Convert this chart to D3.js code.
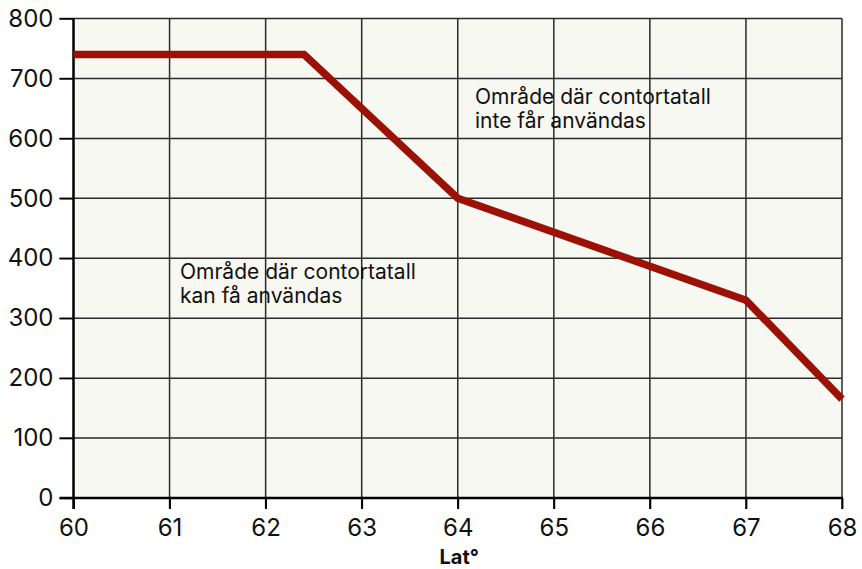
<!DOCTYPE html>
<html>
<head>
<meta charset="utf-8">
<script src="https://cdn.jsdelivr.net/npm/d3@7"></script>
<style>
  body { margin: 0; background: #fff; }
  svg { display: block; font-family: Inter, "Noto Sans", sans-serif; }
</style>
</head>
<body>
<svg id="chart" width="862" height="569"></svg>
<script>
// data
var lat = [60, 62.4, 64, 67, 68];
var heightLimit = [740, 740, 500, 330, 165];
var xTicks = [60, 61, 62, 63, 64, 65, 66, 67, 68];
var yTicks = [0, 100, 200, 300, 400, 500, 600, 700, 800];
var noteAbove = ["Område där contortatall", "inte får användas"];
var noteBelow = ["Område där contortatall", "kan få användas"];

var svg = d3.select("#chart");
var pLeft = 73.5, pRight = 842, pTop = 18.5, pBottom = 498;

var x = d3.scaleLinear().domain([60, 68]).range([pLeft, pRight]);
var y = d3.scaleLinear().domain([0, 800]).range([pBottom, pTop]);

// plot background
svg.append("rect")
    .attr("x", pLeft).attr("y", pTop)
    .attr("width", pRight - pLeft).attr("height", pBottom - pTop)
    .attr("fill", "#f8f8f3");

// grid
var g = svg.append("g");
g.selectAll(".vgrid").data(xTicks.slice(1)).enter().append("line")
    .attr("x1", d => x(d)).attr("x2", d => x(d))
    .attr("y1", pTop).attr("y2", pBottom + 11)
    .attr("stroke", "#2a2a2a").attr("stroke-width", 1.5);
g.selectAll(".hgrid").data(yTicks.slice(1)).enter().append("line")
    .attr("x1", pLeft - 14).attr("x2", pRight)
    .attr("y1", d => y(d)).attr("y2", d => y(d))
    .attr("stroke", "#2a2a2a").attr("stroke-width", 1.5);

// axes
var xAxis = svg.append("g").attr("transform", "translate(0," + pBottom + ")")
    .call(d3.axisBottom(x).tickValues(xTicks).tickSize(11).tickPadding(10));
var yAxis = svg.append("g").attr("transform", "translate(" + pLeft + ",0)")
    .call(d3.axisLeft(y).tickValues(yTicks).tickSize(14).tickPadding(6));

[xAxis, yAxis].forEach(function (a) {
    a.select(".domain").remove();
    a.selectAll("line").attr("stroke", "#000").attr("stroke-width", 1.5);
    a.selectAll("text").attr("fill", "#111").style("font-size", "24px")
        .style("font-family", "Inter, 'Noto Sans', sans-serif");
});
xAxis.selectAll("line").attr("stroke-width", 1.8);

// heavy axis lines
svg.append("line").attr("x1", pLeft).attr("x2", pLeft)
    .attr("y1", pTop).attr("y2", pBottom + 11)
    .attr("stroke", "#000").attr("stroke-width", 2.5);
svg.append("line").attr("x1", pLeft - 14).attr("x2", pRight + 1)
    .attr("y1", pBottom).attr("y2", pBottom)
    .attr("stroke", "#000").attr("stroke-width", 2.5);

// the limit line
var line = d3.line().x((d, i) => x(lat[i])).y(d => y(d));
svg.append("path")
    .datum(heightLimit)
    .attr("d", line)
    .attr("fill", "none")
    .attr("stroke", "#9b1106")
    .attr("stroke-width", 7.5)
    .attr("stroke-linejoin", "miter");

// notes
function note(lines, px, py) {
    var t = svg.append("text").attr("x", px).attr("y", py)
        .attr("fill", "#111").style("font-size", "21px");
    lines.forEach(function (s, i) {
        t.append("tspan").attr("x", px).attr("dy", i ? 24 : 0).text(s);
    });
}
note(noteAbove, 475, 104);
note(noteBelow, 180, 279);

// x title
svg.append("text").attr("x", x(64) + 1.5).attr("y", 564)
    .attr("text-anchor", "middle").attr("fill", "#111")
    .style("font-size", "20px").style("font-weight", "bold")
    .text("Lat°");
</script>
</body>
</html>
